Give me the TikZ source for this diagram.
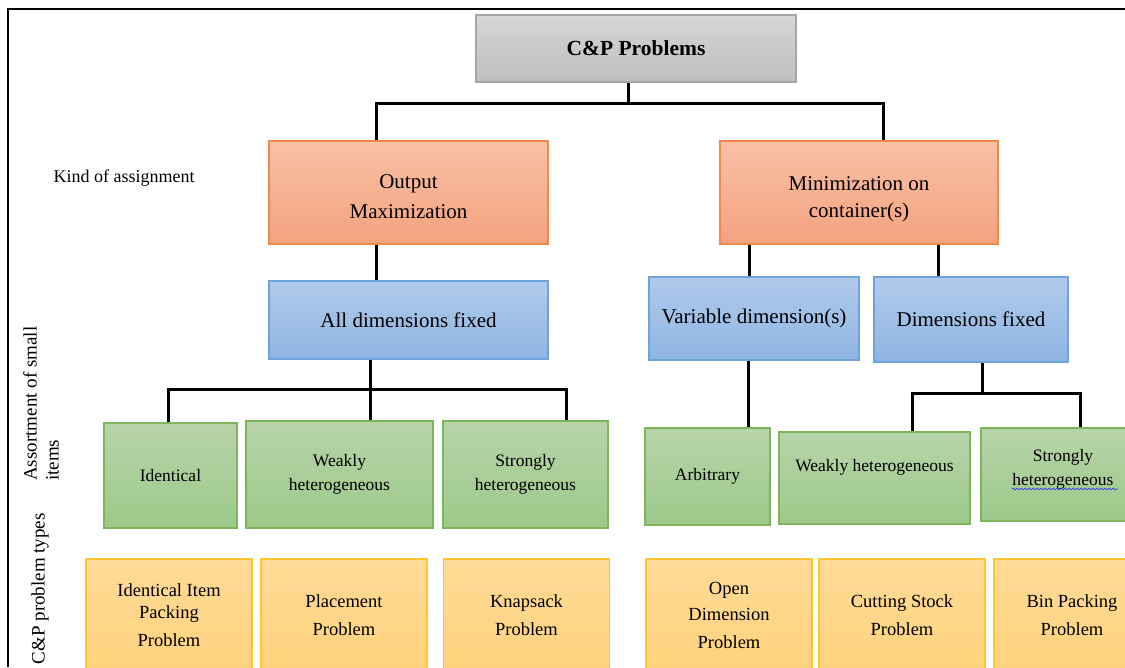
\documentclass[tikz,border=0pt]{standalone}
\usepackage{fontspec}
\setmainfont{Liberation Serif}
\usetikzlibrary{decorations.pathmorphing}

\begin{document}
\begin{tikzpicture}[x=1pt, y=-1pt,
  box/.style={draw, line width=1.2pt, align=center, inner sep=2pt},
  greybox/.style={box, draw=grayline, top color=greytop, bottom color=greybot},
  orangebox/.style={box, draw=orangeline, top color=orangetop, bottom color=orangebot,
    font=\fontsize{21}{30}\selectfont},
  bluebox/.style={box, draw=blueline, top color=bluetop, bottom color=bluebot,
    font=\fontsize{21}{24}\selectfont},
  greenbox/.style={box, draw=greenline, top color=greentop, bottom color=greenbot,
    font=\fontsize{17.5}{24}\selectfont},
  yellowbox/.style={box, draw=yellowline, top color=yellowtop, bottom color=yellowbot,
    minimum width=166pt, minimum height=112pt, font=\fontsize{18.5}{28}\selectfont},
  sidelabel/.style={rotate=90, align=left, inner sep=0pt, font=\fontsize{19}{22}\selectfont},
  link/.style={draw=black, line width=3pt}]

%─────────────
% Colours
%─────────────
\definecolor{grayline}{HTML}{A6A6A6}
\definecolor{greytop}{HTML}{D6D6D6}
\definecolor{greybot}{HTML}{BEBEBE}
\definecolor{orangeline}{HTML}{F08A4B}
\definecolor{orangetop}{HTML}{F8C0A6}
\definecolor{orangebot}{HTML}{F4A27F}
\definecolor{blueline}{HTML}{6FA3DC}
\definecolor{bluetop}{HTML}{B0CAEB}
\definecolor{bluebot}{HTML}{8FB5E3}
\definecolor{greenline}{HTML}{7DB55A}
\definecolor{greentop}{HTML}{B7D4A9}
\definecolor{greenbot}{HTML}{9DC98A}
\definecolor{yellowline}{HTML}{FFC72C}
\definecolor{yellowtop}{HTML}{FFDB98}
\definecolor{yellowbot}{HTML}{FFD27C}

\useasboundingbox (0,0) rectangle (1125,667);

% frame
\draw[line width=1.2pt] (8,667) -- (8,9) -- (1125,9);

%─────────────
% Levels of the tree
%─────────────
\node[greybox, minimum width=320pt, minimum height=67pt,
  font=\bfseries\fontsize{21.5}{24}\selectfont] (top) at (636,48.5) {C\&P Problems};

\node[orangebox, minimum width=279pt, minimum height=103pt, text height=53pt] (out) at (408.5,192.5) {Output\\Maximization};
\node[orangebox, minimum width=278pt, minimum height=103pt, text height=55pt] (min) at (859,192.5) {Minimization on\\[-3pt]container(s)};

\node[bluebox, minimum width=279pt, minimum height=78pt] (alld) at (408.5,320) {All dimensions fixed};
\node[bluebox, minimum width=210pt, minimum height=83pt] (vard) at (754,318.5) {Variable dimension(s)};
\node[bluebox, minimum width=194pt, minimum height=85pt] (dimf) at (971,319.5) {Dimensions fixed};

\node[greenbox, minimum width=133pt, minimum height=105pt] (iden) at (170.5,475.5) {Identical};
\node[greenbox, minimum width=187pt, minimum height=107pt] (weak) at (339.5,474.5) {Weakly\\heterogeneous};
\node[greenbox, minimum width=165pt, minimum height=107pt] (strong) at (525.5,474.5) {Strongly\\heterogeneous};
\node[greenbox, minimum width=125pt, minimum height=97pt] (arb) at (707.5,476.5) {Arbitrary};
\node[greenbox, minimum width=191pt, minimum height=92pt, text depth=26pt] (weaktwo) at (874.5,478) {Weakly heterogeneous};
\node[greenbox, minimum width=164pt, minimum height=93pt, text depth=14pt] (strongtwo) at (1063,474.5) {Strongly\\heterogeneous};

\node[yellowbox] (iipp) at (169,615) {Identical Item\\[-6pt]Packing\\Problem};
\node[yellowbox] (place) at (344,615) {Placement\\Problem};
\node[yellowbox] (knap) at (526.5,615) {Knapsack\\Problem};
\node[yellowbox] (open) at (729,615) {Open\\[-2pt]Dimension\\Problem};
\node[yellowbox] (cut) at (902,615) {Cutting Stock\\Problem};
\node[yellowbox, minimum width=156pt] (bin) at (1072,615) {Bin Packing\\Problem};

% spell-check squiggle
\draw[blue!80, line width=0.7pt, decorate,
  decoration={snake, amplitude=0.9pt, segment length=4pt}] (1012,489) -- (1118,489);

%─────────────
% Side labels
%─────────────
\node[font=\fontsize{18}{20}\selectfont, anchor=west] (kind) at (50,178) {Kind of assignment};
\node[sidelabel, anchor=west] (assort) at (41,481) {Assortment of small\\items};
\node[sidelabel, anchor=east] (types) at (40,513) {C\&P problem types};

%─────────────
% Connectors
%─────────────
\coordinate (b0) at (628,103);
\draw[link] (top.south -| b0) -- (b0) -| (out.north -| 376,0);
\draw[link] (b0) -| (min.north -| 883,0);

\draw[link] (out.south -| 376,0) -- (alld.north -| 376,0);
\draw[link] (min.south -| 749,0) -- (vard.north -| 749,0);
\draw[link] (min.south -| 938,0) -- (dimf.north -| 938,0);

\coordinate (b1) at (370,389);
\draw[link] (alld.south -| b1) -- (b1);
\draw[link] (iden.north -| 168,0) |- (b1) -| (strong.north -| 566,0);
\draw[link] (b1) -- (weak.north -| b1);

\draw[link] (vard.south -| 748,0) -- (arb.north -| 748,0);

\coordinate (b2) at (982,393);
\draw[link] (dimf.south -| b2) -- (b2);
\draw[link] (weaktwo.north -| 912,0) |- (b2) -| (strongtwo.north -| 1080,0);

\end{tikzpicture}
\end{document}
